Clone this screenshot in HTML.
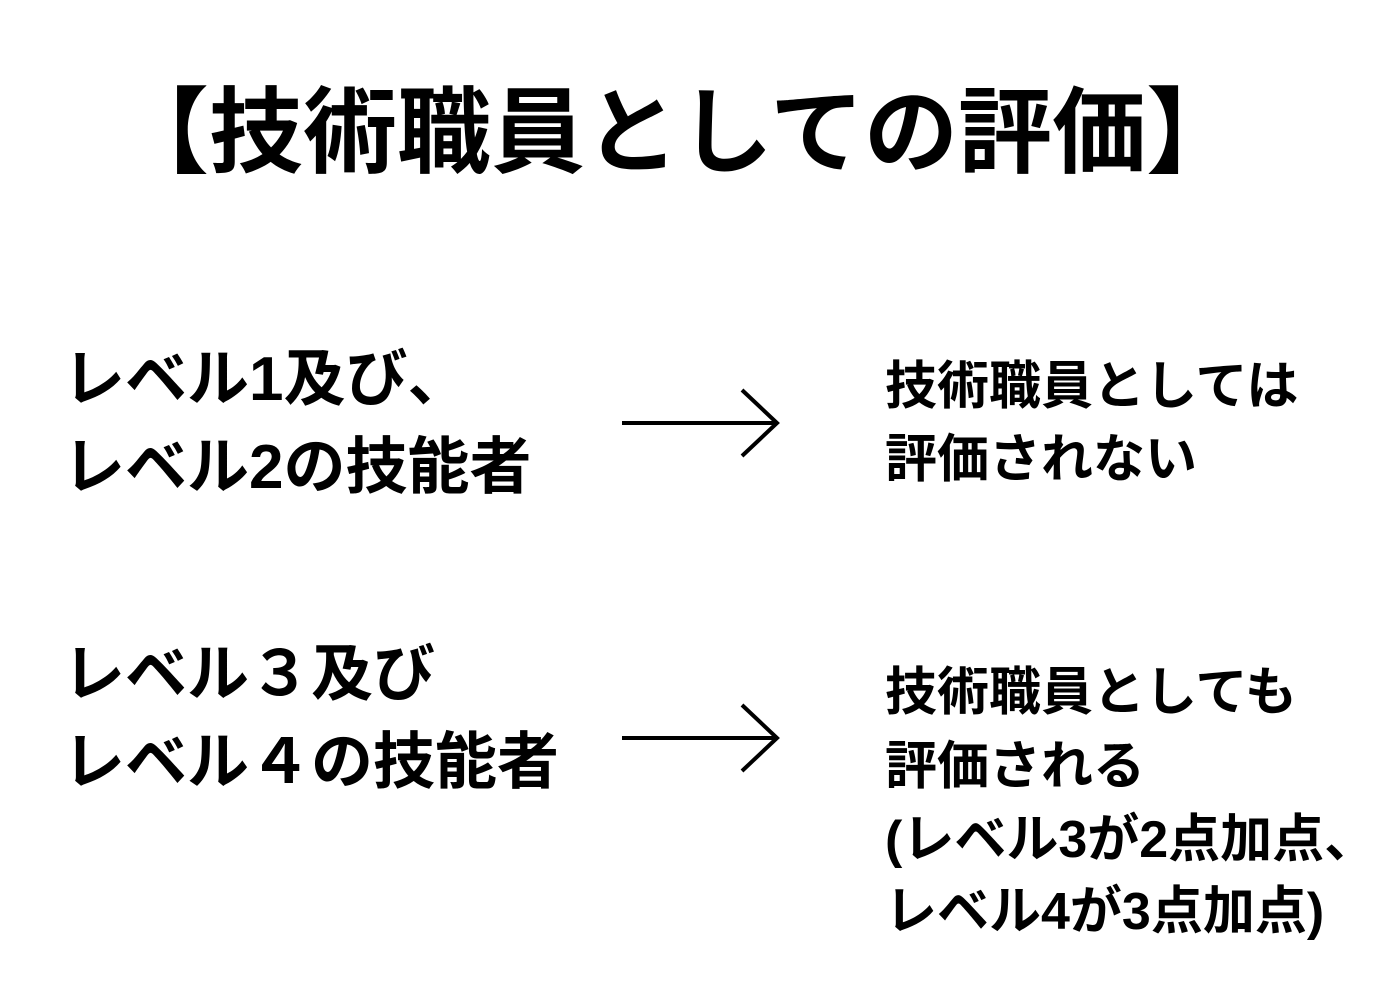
<!DOCTYPE html>
<html><head><meta charset="utf-8"><style>
html,body{margin:0;padding:0;background:#fff;}
body{width:1400px;height:1000px;position:relative;overflow:hidden;font-family:"Liberation Sans","Noto Sans CJK JP",sans-serif;font-weight:bold;color:#000;}
.t{position:absolute;white-space:nowrap;}
</style></head><body>
<div class="t" style="left:115px;top:86px;font-size:94px;line-height:94px;">【技術職員としての評価】</div>

<div class="t" style="left:63px;top:349px;font-size:62px;line-height:62px;">レベル1及び、</div>
<div class="t" style="left:63px;top:437px;font-size:62px;line-height:62px;">レベル2の技能者</div>

<div class="t" style="left:63px;top:644px;font-size:62px;line-height:62px;">レベル３及び</div>
<div class="t" style="left:63px;top:732px;font-size:62px;line-height:62px;">レベル４の技能者</div>

<div class="t" style="left:885px;top:361px;font-size:52px;line-height:52px;">技術職員としては</div>
<div class="t" style="left:885px;top:434px;font-size:52px;line-height:52px;">評価されない</div>

<div class="t" style="left:885px;top:667px;font-size:52px;line-height:52px;">技術職員としても</div>
<div class="t" style="left:885px;top:741px;font-size:52px;line-height:52px;">評価される</div>
<div class="t" style="left:885px;top:814px;font-size:52px;line-height:52px;">(レベル3が2点加点、</div>
<div class="t" style="left:885px;top:886px;font-size:52px;line-height:52px;">レベル4が3点加点)</div>

<svg width="1400" height="1000" style="position:absolute;left:0;top:0" fill="none" stroke="#000" stroke-width="4">
<line x1="622" y1="423" x2="777" y2="423"/>
<polyline points="742,390 777,423 742,456"/>
<line x1="622" y1="738" x2="777" y2="738"/>
<polyline points="742,705 777,738 742,771"/>
</svg>
</body></html>
